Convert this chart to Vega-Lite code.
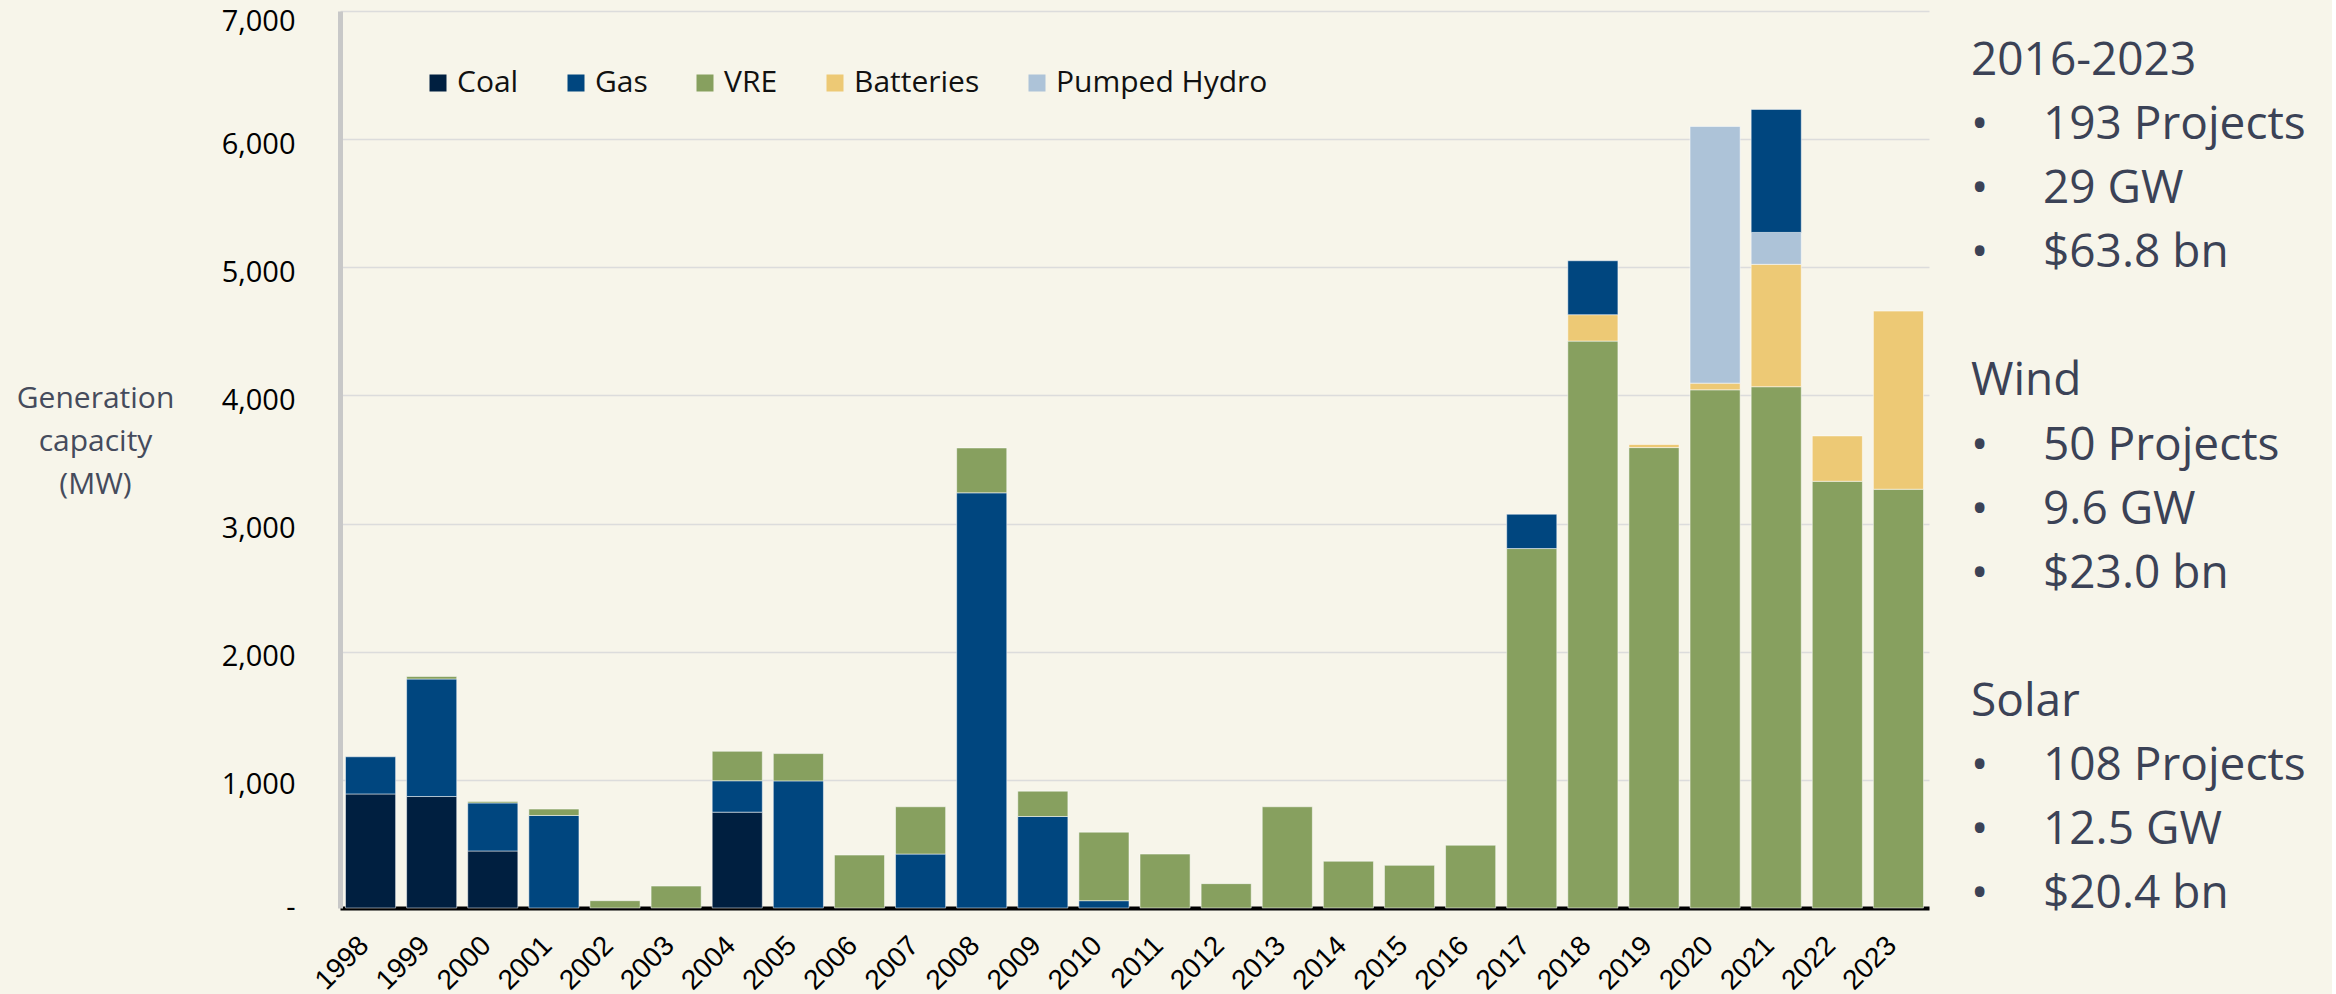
{
  "$schema": "https://vega.github.io/schema/vega-lite/v6.json",
  "background": "#f7f5ea",
  "padding": {"left": 16, "top": 7, "right": 26, "bottom": 0},
  "config": {"view": {"stroke": null}, "font": "Open Sans"},
  "spacing": 42,
  "hconcat": [
    {
      "width": 1589,
      "height": 897,
      "data": {"values": [
        {"year": 1998, "tech": "Coal", "mw": 890, "rank": 1},
        {"year": 1998, "tech": "Gas", "mw": 290, "rank": 2},
        {"year": 1999, "tech": "Coal", "mw": 870, "rank": 1},
        {"year": 1999, "tech": "Gas", "mw": 917, "rank": 2},
        {"year": 1999, "tech": "VRE", "mw": 20, "rank": 3},
        {"year": 2000, "tech": "Coal", "mw": 445, "rank": 1},
        {"year": 2000, "tech": "Gas", "mw": 375, "rank": 2},
        {"year": 2000, "tech": "VRE", "mw": 12, "rank": 3},
        {"year": 2001, "tech": "Gas", "mw": 722, "rank": 2},
        {"year": 2001, "tech": "VRE", "mw": 50, "rank": 3},
        {"year": 2002, "tech": "VRE", "mw": 57, "rank": 3},
        {"year": 2003, "tech": "VRE", "mw": 171, "rank": 3},
        {"year": 2004, "tech": "Coal", "mw": 748, "rank": 1},
        {"year": 2004, "tech": "Gas", "mw": 245, "rank": 2},
        {"year": 2004, "tech": "VRE", "mw": 230, "rank": 3},
        {"year": 2005, "tech": "Gas", "mw": 992, "rank": 2},
        {"year": 2005, "tech": "VRE", "mw": 213, "rank": 3},
        {"year": 2006, "tech": "VRE", "mw": 413, "rank": 3},
        {"year": 2007, "tech": "Gas", "mw": 421, "rank": 2},
        {"year": 2007, "tech": "VRE", "mw": 369, "rank": 3},
        {"year": 2008, "tech": "Gas", "mw": 3240, "rank": 2},
        {"year": 2008, "tech": "VRE", "mw": 350, "rank": 3},
        {"year": 2009, "tech": "Gas", "mw": 714, "rank": 2},
        {"year": 2009, "tech": "VRE", "mw": 198, "rank": 3},
        {"year": 2010, "tech": "Gas", "mw": 57, "rank": 2},
        {"year": 2010, "tech": "VRE", "mw": 535, "rank": 3},
        {"year": 2011, "tech": "VRE", "mw": 421, "rank": 3},
        {"year": 2012, "tech": "VRE", "mw": 190, "rank": 3},
        {"year": 2013, "tech": "VRE", "mw": 790, "rank": 3},
        {"year": 2014, "tech": "VRE", "mw": 365, "rank": 3},
        {"year": 2015, "tech": "VRE", "mw": 333, "rank": 3},
        {"year": 2016, "tech": "VRE", "mw": 490, "rank": 3},
        {"year": 2017, "tech": "VRE", "mw": 2805, "rank": 3},
        {"year": 2017, "tech": "Gas", "mw": 268, "rank": 6},
        {"year": 2018, "tech": "VRE", "mw": 4424, "rank": 3},
        {"year": 2018, "tech": "Batteries", "mw": 206, "rank": 4},
        {"year": 2018, "tech": "Gas", "mw": 421, "rank": 6},
        {"year": 2019, "tech": "VRE", "mw": 3593, "rank": 3},
        {"year": 2019, "tech": "Batteries", "mw": 24, "rank": 4},
        {"year": 2020, "tech": "VRE", "mw": 4044, "rank": 3},
        {"year": 2020, "tech": "Batteries", "mw": 52, "rank": 4},
        {"year": 2020, "tech": "Pumped Hydro", "mw": 2003, "rank": 5},
        {"year": 2021, "tech": "VRE", "mw": 4068, "rank": 3},
        {"year": 2021, "tech": "Batteries", "mw": 955, "rank": 4},
        {"year": 2021, "tech": "Pumped Hydro", "mw": 249, "rank": 5},
        {"year": 2021, "tech": "Gas", "mw": 960, "rank": 6},
        {"year": 2022, "tech": "VRE", "mw": 3330, "rank": 3},
        {"year": 2022, "tech": "Batteries", "mw": 354, "rank": 4},
        {"year": 2023, "tech": "VRE", "mw": 3268, "rank": 3},
        {"year": 2023, "tech": "Batteries", "mw": 1390, "rank": 4}
      ]},
      "mark": {"type": "bar", "stroke": "#ffffff", "strokeWidth": 1, "strokeOpacity": 0.5},
      "encoding": {
        "x": {
          "field": "year", "type": "ordinal",
          "scale": {"paddingInner": 0.18, "paddingOuter": 0.09},
          "axis": {
            "title": null, "labelAngle": -45, "labelAlign": "right", "labelBaseline": "middle",
            "labelFont": "Liberation Sans", "labelFontSize": 28, "labelColor": "#000000",
            "labelPadding": 33, "labelOffset": -6, "ticks": false, "tickSize": 0,
            "domainColor": "#000000", "domainWidth": 4, "grid": false
          }
        },
        "y": {
          "field": "mw", "type": "quantitative", "stack": "zero",
          "scale": {"domain": [0, 7000], "nice": false},
          "axis": {
            "title": ["Generation", "capacity", "(MW)"],
            "titleAngle": 0, "titleAlign": "center", "titleBaseline": "alphabetic",
            "titleX": -245, "titleY": 396, "titleLineHeight": 43,
            "titleFont": "Open Sans", "titleFontSize": 30, "titleFontWeight": "normal", "titleColor": "#454b5c",
            "values": [0, 1000, 2000, 3000, 4000, 5000, 6000, 7000],
            "labelExpr": "datum.value == 0 ? '-\u00a0\u00a0' : format(datum.value, ',')",
            "labelFont": "Open Sans", "labelFontSize": 29, "labelColor": "#000000",
            "labelPadding": 45, "labelOffset": 5, "labelFlush": true, "labelFlushOffset": 9,
            "ticks": false, "tickSize": 0,
            "domainColor": "#c8c8c8", "domainWidth": 5,
            "gridColor": "#dcdcdc", "gridWidth": 1.5
          }
        },
        "color": {
          "field": "tech", "type": "nominal",
          "scale": {
            "domain": ["Coal", "Gas", "VRE", "Batteries", "Pumped Hydro"],
            "range": ["#001f40", "#00467f", "#87a05f", "#edc975", "#adc3d8"]
          },
          "legend": {
            "title": null, "orient": "none", "legendX": 83, "legendY": 57,
            "direction": "horizontal", "symbolType": "square", "symbolSize": 289,
            "symbolStrokeWidth": 0, "labelFont": "Open Sans", "labelFontSize": 30,
            "labelColor": "#111111", "labelOffset": 4, "labelLimit": 500,
            "columnPadding": 42, "padding": 0
          }
        },
        "order": {"field": "rank", "type": "quantitative"}
      }
    },
    {
      "width": 72,
      "height": 897,
      "data": {"values": [
        {"line": 0, "col": 0, "label": "2016-2023"},
        {"line": 1, "col": 0, "label": "•"},
        {"line": 1, "col": 1, "label": "193 Projects"},
        {"line": 2, "col": 0, "label": "•"},
        {"line": 2, "col": 1, "label": "29 GW"},
        {"line": 3, "col": 0, "label": "•"},
        {"line": 3, "col": 1, "label": "$63.8 bn"},
        {"line": 5, "col": 0, "label": "Wind"},
        {"line": 6, "col": 0, "label": "•"},
        {"line": 6, "col": 1, "label": "50 Projects"},
        {"line": 7, "col": 0, "label": "•"},
        {"line": 7, "col": 1, "label": "9.6 GW"},
        {"line": 8, "col": 0, "label": "•"},
        {"line": 8, "col": 1, "label": "$23.0 bn"},
        {"line": 10, "col": 0, "label": "Solar"},
        {"line": 11, "col": 0, "label": "•"},
        {"line": 11, "col": 1, "label": "108 Projects"},
        {"line": 12, "col": 0, "label": "•"},
        {"line": 12, "col": 1, "label": "12.5 GW"},
        {"line": 13, "col": 0, "label": "•"},
        {"line": 13, "col": 1, "label": "$20.4 bn"}
      ]},
      "mark": {"type": "text", "align": "left", "baseline": "alphabetic", "font": "Open Sans", "fontSize": 46, "color": "#3b4256"},
      "encoding": {
        "x": {"field": "col", "type": "quantitative", "scale": {"domain": [0, 1], "nice": false, "zero": false}, "axis": null},
        "y": {"field": "line", "type": "quantitative", "scale": {"domain": [13, -1], "nice": false, "zero": false}, "axis": null},
        "text": {"field": "label"}
      }
    }
  ]
}
